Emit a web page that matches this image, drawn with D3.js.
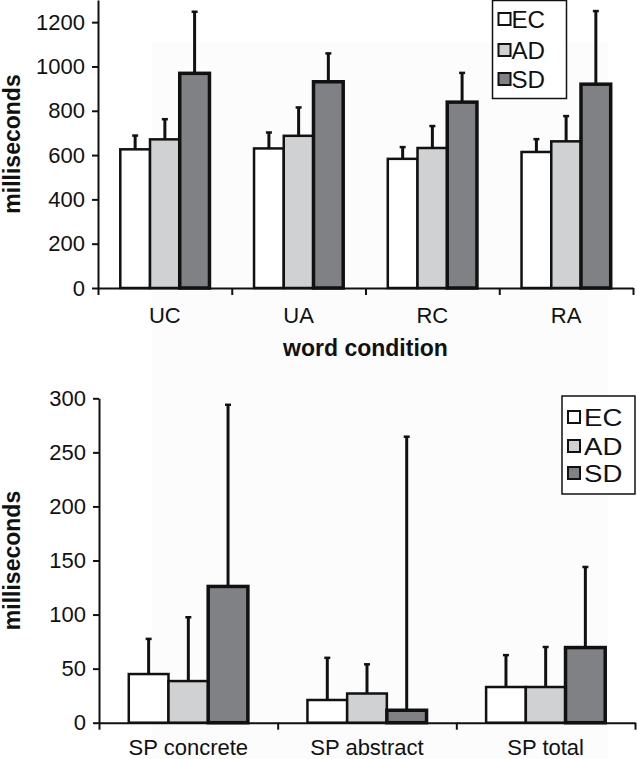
<!DOCTYPE html>
<html>
<head>
<meta charset="utf-8">
<script src="https://cdn.jsdelivr.net/npm/d3@7"></script>
<style>
  body { margin: 0; background: #fff; }
  text { font-family: "Liberation Sans", Arial, sans-serif; fill: #111; }
</style>
</head>
<body>
<div id="vis"></div>
<script>
// data
const groups = ['EC', 'AD', 'SD'];
const colors = ['#ffffff', '#d0d1d3', '#808185'];

const wordConditions = ['UC', 'UA', 'RC', 'RA'];
const wordMeans = {
    EC: [626, 630, 583, 614],
    AD: [671, 687, 632, 662],
    SD: [969, 931, 839, 920]
};
const wordErrors = {
    EC: [62, 72, 53, 58],
    AD: [91, 128, 99, 114],
    SD: [278, 128, 132, 330]
};
const wordTicks = [0, 200, 400, 600, 800, 1000, 1200];

const spConditions = ['SP concrete', 'SP abstract', 'SP total'];
const spMeans = {
    EC: [45, 21, 33],
    AD: [38.5, 27, 33],
    SD: [126, 11.5, 69.5]
};
const spErrors = {
    EC: [32.5, 39, 29.5],
    AD: [59, 27, 37],
    SD: [168, 253, 74.5]
};
const spTicks = [0, 50, 100, 150, 200, 250, 300];

let width = 637;
let height = 759;

const wrapper = d3.select('#vis')
    .append('svg')
    .attr('width', width)
    .attr('height', height);

// faint scan tint behind most of the figure
wrapper.append('rect')
    .attr('x', 152)
    .attr('y', 43)
    .attr('width', 456)
    .attr('height', height - 43)
    .attr('fill', '#fcfcfc');

function drawPanel(opts) {
    const dims = opts.dims;
    const bounds = wrapper.append('g');

    const yScale = d3.scaleLinear()
        .domain([0, opts.yMax])
        .range([dims.bottom, dims.top]);

    const xScale = d3.scaleBand()
        .domain(opts.categories)
        .range([dims.left, dims.right])
        .paddingInner(0)
        .paddingOuter(0);

    // 50% gap width, like the spreadsheet default
    const groupScale = d3.scaleBand()
        .domain(groups)
        .range([0, xScale.bandwidth()])
        .paddingInner(0)
        .paddingOuter(0.75);

    // x axis: ticks on the category boundaries
    const edgeScale = d3.scaleLinear()
        .domain([0, opts.categories.length])
        .range([dims.left, dims.right]);
    const xAxisGenerator = d3.axisBottom(edgeScale)
        .tickValues(d3.range(opts.categories.length + 1))
        .tickFormat('')
        .tickSize(7)
        .tickSizeOuter(0);
    const xAxis = bounds.append('g')
        .attr('transform', `translate(0, ${dims.bottom})`)
        .call(xAxisGenerator);
    xAxis.select('.domain').attr('stroke', '#111').attr('stroke-width', 2);
    xAxis.selectAll('.tick line').attr('stroke', '#111').attr('stroke-width', 2);

    const yAxisGenerator = d3.axisLeft(yScale)
        .tickValues(opts.ticks)
        .tickFormat(d3.format('d'))
        .tickSize(6)
        .tickSizeOuter(0)
        .tickPadding(7);
    const yAxis = bounds.append('g')
        .attr('transform', `translate(${dims.left}, 0)`)
        .call(yAxisGenerator);
    yAxis.select('.domain').attr('stroke', '#111').attr('stroke-width', 2);
    yAxis.selectAll('.tick line').attr('stroke', '#111').attr('stroke-width', 2);
    yAxis.selectAll('.tick text')
        .style('font-size', '22px')
        .attr('fill', '#111');

    // bars
    const barData = [];
    opts.categories.forEach((c, i) => {
        groups.forEach((g, j) => {
            barData.push({ cat: c, group: g, color: colors[j], value: opts.means[g][i], err: opts.errors[g][i] });
        });
    });
    const catGroups = bounds.append('g');
    const bars = catGroups.selectAll('g')
        .data(barData)
        .join('g')
        .attr('transform', d => `translate(${xScale(d.cat) + groupScale(d.group)}, 0)`);

    // error bars first, the bar covers the lower part
    bars.append('line')
        .attr('x1', groupScale.bandwidth() / 2)
        .attr('x2', groupScale.bandwidth() / 2)
        .attr('y1', d => yScale(d.value))
        .attr('y2', d => yScale(d.value + d.err))
        .attr('stroke', '#111')
        .attr('stroke-width', 3);
    bars.append('line')
        .attr('x1', groupScale.bandwidth() / 2 - 3)
        .attr('x2', groupScale.bandwidth() / 2 + 3)
        .attr('y1', d => yScale(d.value + d.err))
        .attr('y2', d => yScale(d.value + d.err))
        .attr('stroke', '#111')
        .attr('stroke-width', 2.5);

    bars.append('rect')
        .attr('x', 0)
        .attr('y', d => yScale(d.value))
        .attr('width', groupScale.bandwidth())
        .attr('height', d => yScale(0) - yScale(d.value))
        .attr('fill', d => d.color)
        .attr('stroke', '#111')
        .attr('stroke-width', d => d.group === 'SD' ? 3.5 : 2.5);

    // category labels
    bounds.append('g')
        .selectAll('text')
        .data(opts.categories)
        .join('text')
        .attr('x', d => xScale(d) + xScale.bandwidth() / 2)
        .attr('y', opts.labelY)
        .attr('text-anchor', 'middle')
        .style('font-size', '22px')
        .text(d => d);

    if (opts.xTitle) {
        bounds.append('text')
            .attr('x', (dims.left + dims.right) / 2)
            .attr('y', opts.xTitleY)
            .attr('text-anchor', 'middle')
            .style('font-size', '23px')
            .style('font-weight', 'bold')
            .text(opts.xTitle);
    }

    bounds.append('text')
        .attr('transform', `translate(12, ${(dims.top + dims.bottom) / 2}) rotate(-90)`)
        .attr('text-anchor', 'middle')
        .attr('dominant-baseline', 'central')
        .style('font-size', '23px')
        .style('font-weight', 'bold')
        .text('milliseconds');

    // legend
    const lg = opts.legend;
    const legend = bounds.append('g');
    legend.append('rect')
        .attr('x', lg.x)
        .attr('y', lg.y)
        .attr('width', lg.w)
        .attr('height', lg.h)
        .attr('fill', '#fff')
        .attr('stroke', '#111')
        .attr('stroke-width', 1.5);
    const items = legend.selectAll('.item')
        .data(groups)
        .join('g')
        .attr('class', 'item')
        .attr('transform', (d, i) => `translate(${lg.x + 6}, ${lg.rows[i]})`);
    items.append('rect')
        .attr('x', 0)
        .attr('y', -6)
        .attr('width', 12)
        .attr('height', 12)
        .attr('fill', (d, i) => colors[i])
        .attr('stroke', '#111')
        .attr('stroke-width', 2);
    items.append('text')
        .attr('transform', `translate(${lg.textDx}, 1) scale(${lg.stretch}, 1)`)
        .attr('dominant-baseline', 'central')
        .style('font-size', lg.font + 'px')
        .text(d => d);
}

drawPanel({
    dims: { left: 98, right: 633, top: 0, bottom: 288 },
    yMax: 1300,
    ticks: wordTicks,
    categories: wordConditions,
    means: wordMeans,
    errors: wordErrors,
    labelY: 323,
    xTitle: 'word condition',
    xTitleY: 356,
    legend: { x: 492.5, y: 0.5, w: 74, h: 98, rows: [19, 50, 79], textDx: 13, font: 23, stretch: 1.05 }
});

drawPanel({
    dims: { left: 99, right: 635, top: 398.3, bottom: 722.7 },
    yMax: 300,
    ticks: spTicks,
    categories: spConditions,
    means: spMeans,
    errors: spErrors,
    labelY: 755,
    xTitle: null,
    legend: { x: 562, y: 396, w: 73, h: 98, rows: [417, 446, 473], textDx: 16, font: 24, stretch: 1.15 }
});
</script>
</body>
</html>
